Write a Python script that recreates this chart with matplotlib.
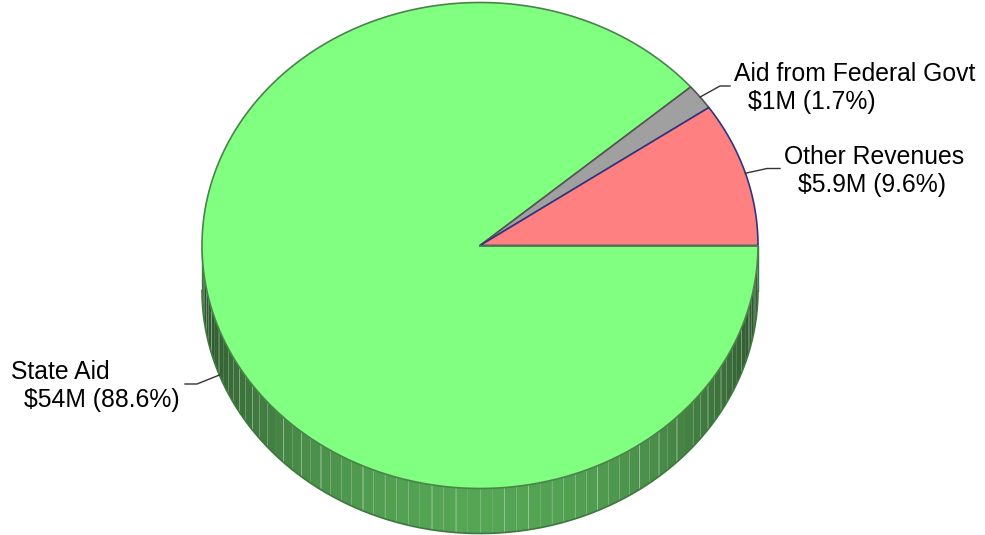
"""
3D-style pie of revenue sources, drawn with plain polygons.
"""

import numpy as np
import matplotlib
matplotlib.use('Agg')
import matplotlib.pyplot as plt
from matplotlib.patches import Polygon

plt.rcParams['font.family'] = ['Liberation Sans', 'DejaVu Sans']

# data (counter-clockwise from 3 o'clock)
labels = ['Other Revenues', 'Aid from Federal Govt', 'State Aid']
amounts = ['$5.9M', '$1M', '$54M']
pcts = [9.6, 1.7, 88.6]
top_colors = ['#ff8080', '#a0a0a0', '#80ff80']
edge_colors = ['#2e3580', '#555555', '#4a844a']

# geometry (pixels)
W, H = 985, 535
cx, cy = 480, 245.5
rx, ry = 278, 243
depth = 45


def pt(theta, dy=0):
    t = np.radians(theta)
    return cx + rx * np.cos(t), cy - ry * np.sin(t) + dy


fig = plt.figure(figsize=(W / 100, H / 100), dpi=100)
ax = fig.add_axes([0, 0, 1, 1])
ax.set_xlim(0, W)
ax.set_ylim(H, 0)
ax.axis('off')

frac = np.array(pcts) / sum(pcts) * 360
starts = np.concatenate([[0], np.cumsum(frac)[:-1]])
ends = np.cumsum(frac)

# side wall (only the front half shows, which is all state aid)
dark = np.array([0x2a, 0x4e, 0x2a]) / 255
light = np.array([0x55, 0xa5, 0x55]) / 255
step = 2.5
angs = np.arange(180, 360, step)
for i, a in enumerate(angs):
    a2 = min(a + step, 360)
    ts = np.linspace(a, a2, 4)
    x1, y1 = pt(ts)
    x2, y2 = pt(ts[::-1], depth)
    f = abs(np.sin(np.radians((a + a2) / 2))) ** 1.3
    col = dark + (light - dark) * f
    ax.add_patch(Polygon(np.column_stack([np.r_[x1, x2], np.r_[y1, y2]]),
                         closed=True, facecolor=col, edgecolor='none', zorder=1))
    if i % 2 == 0:
        xa, ya = pt(a)
        ax.plot([xa, xa], [ya, ya + depth], color='white', lw=0.6,
                alpha=0.25, zorder=1.5)

tb = np.linspace(180, 360, 200)
xb, yb = pt(tb, depth)
ax.plot(xb, yb, color='#3f783f', lw=1.2, zorder=2)
for a in (180, 360):
    xa, ya = pt(a)
    ax.plot([xa, xa], [ya, ya + depth], color='#3f783f', lw=1.0, zorder=2)

# top faces
order = [2, 1, 0]
for k in order:
    ts = np.linspace(starts[k], ends[k], 300)
    xs, ys = pt(ts)
    poly = np.column_stack([np.r_[cx, xs], np.r_[cy, ys]])
    ax.add_patch(Polygon(poly, closed=True, facecolor=top_colors[k],
                         edgecolor=edge_colors[k], lw=1.2, zorder=3,
                         joinstyle='round'))
x0, y0 = pt(0)
ax.plot([cx, x0], [cy, y0], color=edge_colors[2], lw=1.2, zorder=4)

# labels with leader lines
elbows = [(767, 168.5), (720, 86), (197, 384)]
ends_ld = [(780, 168.5), (730, 86), (185, 384)]
text_xy = [(784, 164), (734, 81), (11, 379)]
for k in range(3):
    mid = (starts[k] + ends[k]) / 2
    sx, sy = pt(mid, depth if mid > 180 else 0)
    ex, ey = elbows[k]
    tx, ty = ends_ld[k]
    ax.plot([sx, ex, tx], [sy, ey, ty], color='#333333', lw=1.0, zorder=5)
    lx, ly = text_xy[k]
    ax.text(lx, ly, labels[k], fontsize=17.8, color='black',
            ha='left', va='baseline', zorder=6)
    ax.text(lx + 13.5, ly + 28, '%s (%.1f%%)' % (amounts[k], pcts[k]),
            fontsize=17.8, color='black', ha='left', va='baseline', zorder=6)

fig.savefig('out.png', dpi=100)
